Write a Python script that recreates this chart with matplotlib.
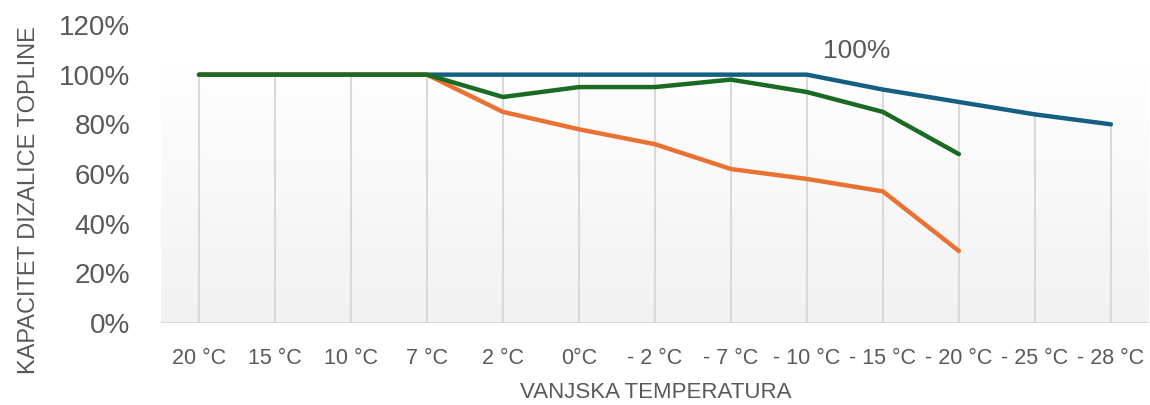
import numpy as np
import matplotlib
matplotlib.use("Agg")
import matplotlib.pyplot as plt

plt.rcParams['font.family'] = ['Liberation Sans', 'DejaVu Sans']

# data
categories = ['20 °C', '15 °C', '10 °C', '7 °C', '2 °C', '0°C', '- 2 °C', '- 7 °C',
              '- 10 °C', '- 15 °C', '- 20 °C', '- 25 °C', '- 28 °C']
blue_vals = [100, 100, 100, 100, 100, 100, 100, 100, 100, 94, 89, 84, 80]
orange_vals = [100, 100, 100, 100, 85, 78, 72, 62, 58, 53, 29]
green_vals = [100, 100, 100, 100, 91, 95, 95, 98, 93, 85, 68]
y_ticks = [0, 20, 40, 60, 80, 100, 120]

gray_txt = '#595959'
grid_col = '#d9d9d9'

fig = plt.figure(figsize=(11.5, 4.05), dpi=100)
ax = fig.add_axes([0.140, 0.2025, 0.859, 0.7358])

x = np.arange(len(categories))

# plot area gradient (light gray at bottom -> white at top)
cmap = matplotlib.colors.LinearSegmentedColormap.from_list('bg', ['#f1f1f1', '#ffffff'])
ax.imshow(np.linspace(0, 1, 256).reshape(-1, 1), extent=(-0.5, len(categories) - 0.5, 0, 104),
          aspect='auto', cmap=cmap, origin='lower', zorder=0)

# drop lines down to the axis
ax.vlines(x, 0, blue_vals, color=grid_col, lw=1.5, zorder=1)
ax.axhline(0, color=grid_col, lw=2.2, zorder=1)

ax.plot(x, blue_vals, color='#156082', lw=3.2, solid_capstyle='round', zorder=3)
ax.plot(x[:len(orange_vals)], orange_vals, color='#E97132', lw=3.2, solid_capstyle='round', zorder=4)
ax.plot(x[:len(green_vals)], green_vals, color='#196B24', lw=3.2, solid_capstyle='round', zorder=5)

ax.text(8.66, 109.5, '100%', ha='center', va='center', fontsize=19, color=gray_txt)

ax.set_xlim(-0.5, len(categories) - 0.5)
ax.set_ylim(0, 120)
ax.set_xticks(x)
ax.set_xticklabels(categories, fontsize=15.5, color=gray_txt)
ax.set_yticks(y_ticks)
ax.set_yticklabels([f'{v}%' for v in y_ticks], fontsize=20, color=gray_txt)
ax.tick_params(axis='x', length=0, pad=18)
ax.tick_params(axis='y', length=0, pad=22)
for s in ax.spines.values():
    s.set_visible(False)

fig.text(0.0255, 0.505, 'KAPACITET DIZALICE TOPLINE', rotation=90, ha='center', va='center',
         fontsize=17, color=gray_txt)
fig.text(0.570, 0.03, 'VANJSKA TEMPERATURA', ha='center', va='center', fontsize=16, color=gray_txt)

fig.savefig('out.png', dpi=100)
